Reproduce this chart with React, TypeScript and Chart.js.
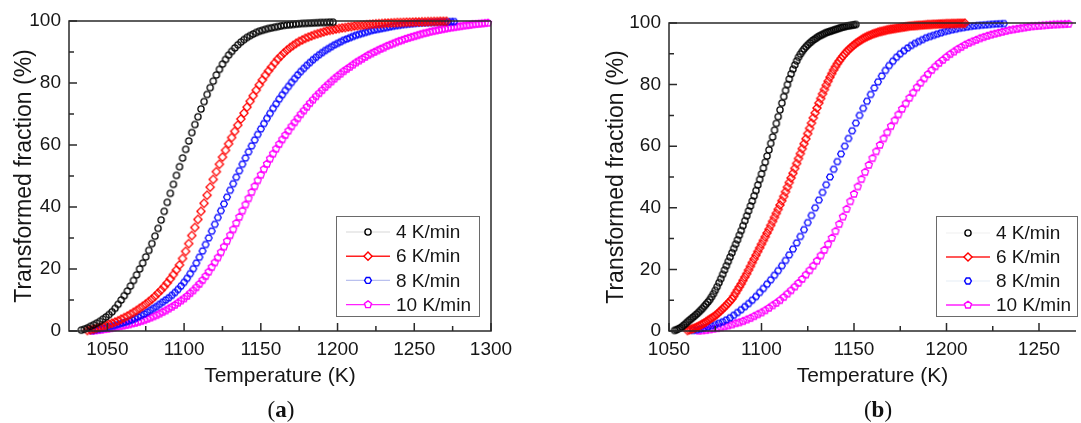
import React, { useEffect, useRef } from "react";
import { Chart, registerables } from "chart.js";
Chart.register(...registerables);

// ---------- shared labels ----------
const seriesLabels = ["4 K/min", "6 K/min", "8 K/min", "10 K/min"];
const seriesColors = ["#000000", "#ff0000", "#0000ff", "#ff00ff"];
const seriesShapes = ["circle", "diamond", "hexagon", "pentagon"];
const legendLineColorsA = ["#e4e4e4", "#ff2020", "#b9c0ee", "#ff20ff"];
const legendLineColorsB = ["#f4f4f4", "#ff2020", "#eef3f8", "#ff20ff"];

const yTicks = [0, 20, 40, 60, 80, 100];
const yMinor = [10, 30, 50, 70, 90];
const xTicksA = [1050, 1100, 1150, 1200, 1250, 1300];
const xMinorA = [1075, 1125, 1175, 1225, 1275];
const xTicksB = [1050, 1100, 1150, 1200, 1250];
const xMinorB = [1075, 1125, 1175, 1225];

const xTitle = "Temperature (K)";
const yTitle = "Transformed fraction (%)";

// ---------- panel (a) data: first temperature, temperature step, fractions ----------
const aStart = [1033, 1037, 1040, 1040];
const aStep = [2, 2, 2, 2];
const a4 = [0.3,0.6,1.0,1.5,2.0,2.5,3.1,3.8,4.5,5.3,6.2,7.3,8.6,10.0,11.4,12.9,14.5,16.3,18.1,20.0,
  21.9,23.9,26.0,28.2,30.6,33.1,35.8,38.6,41.5,44.4,47.3,50.2,53.0,55.8,58.6,61.3,64.0,66.6,69.1,71.6,
  74.0,76.3,78.5,80.6,82.6,84.4,86.1,87.6,89.0,90.2,91.3,92.3,93.2,94.0,94.7,95.3,95.8,96.3,96.7,97.0,
  97.3,97.6,97.8,98.0,98.2,98.4,98.6,98.7,98.8,98.9,99.0,99.1,99.2,99.25,99.3,99.35,99.4,99.45,99.5,99.5,
  99.55,99.6,99.6];
const a6 = [0.2,0.4,0.6,0.9,1.2,1.5,1.8,2.2,2.5,2.9,3.3,3.8,4.3,4.8,5.4,6.0,6.6,7.3,8.0,8.7,
  9.5,10.3,11.2,12.2,13.2,14.3,15.5,16.8,18.2,19.7,21.3,23.4,25.7,28.2,30.8,33.4,36.0,38.6,41.2,43.8,
  46.4,48.9,51.4,53.8,56.1,58.3,60.4,62.4,64.4,66.4,68.4,70.3,72.2,74.1,75.9,77.7,79.4,81.0,82.5,83.9,
  85.2,86.5,87.7,88.7,89.7,90.6,91.4,92.1,92.8,93.4,93.9,94.4,94.8,95.2,95.6,95.9,96.2,96.5,96.8,97.0,
  97.2,97.4,97.6,97.8,97.9,98.1,98.2,98.4,98.5,98.6,98.7,98.8,98.9,99.0,99.1,99.15,99.2,99.3,99.35,99.4,
  99.45,99.5,99.5,99.55,99.6,99.6,99.65,99.7,99.7,99.75,99.75,99.8,99.8,99.85,99.85,99.9,99.9,99.9];
const a8 = [0.2,0.4,0.6,0.8,1.0,1.2,1.5,1.7,2.0,2.3,2.6,2.9,3.2,3.6,4.0,4.5,5.0,5.5,6.1,6.7,
  7.3,7.9,8.6,9.3,10.0,10.7,11.5,12.4,13.4,14.5,15.7,17.0,18.5,20.1,21.9,23.8,25.8,27.9,30.0,32.2,
  34.4,36.6,38.8,41.0,43.2,45.4,47.5,49.6,51.7,53.8,55.8,57.8,59.7,61.6,63.4,65.2,66.9,68.6,70.2,71.8,
  73.3,74.8,76.2,77.6,78.9,80.2,81.4,82.6,83.7,84.7,85.7,86.6,87.5,88.3,89.1,89.8,90.5,91.1,91.7,92.3,
  92.8,93.3,93.8,94.2,94.6,95.0,95.4,95.7,96.0,96.3,96.6,96.9,97.1,97.3,97.5,97.7,97.9,98.1,98.3,98.5,
  98.6,98.8,98.9,99.0,99.1,99.2,99.3,99.35,99.4,99.45,99.5,99.55,99.6,99.65,99.7,99.7,99.75,99.8,99.8];
const a10 = [0.1,0.2,0.3,0.4,0.6,0.7,0.9,1.1,1.3,1.5,1.7,1.9,2.1,2.4,2.6,2.9,3.2,3.5,3.9,4.3,
  4.7,5.1,5.6,6.1,6.6,7.2,7.8,8.4,9.1,9.8,10.5,11.3,12.2,13.1,14.1,15.2,16.4,17.7,19.1,20.6,
  22.1,23.7,25.4,27.2,29.0,30.9,32.8,34.8,36.8,38.8,40.8,42.8,44.8,46.7,48.6,50.4,52.2,53.9,55.6,57.2,
  58.8,60.3,61.8,63.2,64.6,66.0,67.3,68.6,69.9,71.1,72.3,73.5,74.6,75.7,76.7,77.7,78.7,79.6,80.5,81.4,
  82.2,83.0,83.8,84.5,85.2,85.9,86.6,87.2,87.8,88.4,89.0,89.5,90.0,90.5,91.0,91.4,91.9,92.3,92.7,93.1,
  93.5,93.8,94.2,94.5,94.8,95.1,95.4,95.7,96.0,96.2,96.5,96.7,96.9,97.1,97.3,97.5,97.7,97.9,98.0,98.2,
  98.3,98.5,98.6,98.7,98.9,99.0,99.1,99.2,99.3,99.4];

// ---------- panel (b) data ----------
const bStart = [1053, 1060, 1063, 1066];
const bStep = [1, 1, 2, 2];
const b4 = [0.2,0.4,0.7,1.0,1.4,1.9,2.4,3.0,3.5,4.0,4.5,5.0,5.5,6.1,6.7,7.3,8.0,8.7,9.4,10.2,
  11.1,12.1,13.2,14.4,15.7,17.0,18.4,19.8,21.2,22.6,24.0,25.4,26.8,28.2,29.6,31.1,32.6,34.2,35.8,37.4,
  39.0,40.6,42.2,43.9,45.6,47.4,49.2,51.0,52.9,54.8,56.8,58.8,60.9,63.0,65.2,67.4,69.6,71.8,74.0,76.1,
  78.1,80.0,81.8,83.5,85.0,86.4,87.7,88.9,89.9,90.8,91.6,92.3,92.9,93.5,94.0,94.5,94.9,95.3,95.7,96.0,
  96.3,96.6,96.9,97.1,97.3,97.5,97.7,97.9,98.1,98.3,98.5,98.7,98.8,99.0,99.1,99.2,99.3,99.4,99.5];
const b6 = [0.2,0.4,0.6,0.8,1.0,1.3,1.6,1.9,2.3,2.6,3.0,3.4,3.8,4.2,4.6,5.0,5.5,6.1,6.6,7.2,
  7.8,8.4,9.1,9.7,10.4,11.3,12.3,13.3,14.3,15.3,16.4,17.5,18.6,19.8,21.0,22.2,23.4,24.6,25.8,27.0,
  28.2,29.4,30.6,31.8,33.0,34.3,35.6,36.9,38.2,39.5,40.9,42.3,43.7,45.2,46.7,48.2,49.7,51.2,52.8,54.4,
  56.0,57.6,59.2,60.8,62.4,64.1,65.8,67.5,69.2,70.8,72.4,74.0,75.5,77.0,78.4,79.8,81.1,82.4,83.6,84.8,
  85.8,86.8,87.7,88.5,89.3,90.0,90.7,91.3,91.9,92.4,92.9,93.4,93.8,94.2,94.6,95.0,95.3,95.6,95.9,96.1,
  96.4,96.6,96.8,97.0,97.2,97.3,97.5,97.6,97.8,97.9,98.0,98.1,98.2,98.3,98.4,98.5,98.6,98.7,98.8,98.9,
  99.0,99.05,99.1,99.15,99.2,99.25,99.3,99.35,99.4,99.45,99.5,99.5,99.55,99.6,99.6,99.65,99.7,99.7,99.75,99.75,
  99.8,99.8,99.8,99.85,99.85,99.85,99.9,99.9,99.9,99.9,99.95];
const b8 = [0.2,0.4,0.7,1.0,1.3,1.7,2.1,2.5,3.0,3.6,4.3,5.1,6.0,6.9,7.9,8.9,10.0,11.2,12.5,13.8,
  15.2,16.6,18.1,19.6,21.2,22.9,24.7,26.6,28.6,30.7,32.9,35.2,37.5,40.0,42.5,45.0,47.5,50.0,52.5,55.0,
  57.5,60.0,62.5,65.0,67.5,70.0,72.3,74.6,76.8,78.9,80.9,82.8,84.6,86.2,87.6,88.9,90.0,91.0,91.9,92.7,
  93.4,94.0,94.6,95.2,95.6,96.0,96.4,96.8,97.2,97.5,97.8,98.0,98.3,98.5,98.7,98.9,99.05,99.2,99.3,99.4,
  99.5,99.6,99.7,99.75,99.8];
const b10 = [0.1,0.2,0.3,0.5,0.7,0.9,1.2,1.5,1.8,2.1,2.5,2.8,3.2,3.7,4.2,4.8,5.4,6.0,6.7,7.5,
  8.3,9.1,10.0,11.0,12.1,13.2,14.4,15.6,16.9,18.3,19.7,21.2,22.8,24.5,26.3,28.2,30.2,32.4,34.7,37.1,
  39.6,42.1,44.5,46.9,49.3,51.6,53.9,56.1,58.3,60.4,62.5,64.5,66.5,68.4,70.3,72.1,73.9,75.7,77.4,79.1,
  80.6,82.0,83.4,84.7,85.9,87.0,88.0,89.0,89.9,90.7,91.5,92.2,92.9,93.5,94.0,94.5,95.0,95.4,95.8,96.2,
  96.5,96.8,97.1,97.4,97.7,97.9,98.1,98.3,98.5,98.7,98.9,99.0,99.1,99.2,99.3,99.4,99.5,99.55,99.6,99.65,
  99.7];

const FONT = "'Liberation Sans', Arial, sans-serif";
const TEXT = "#161616";

function shapePath(ctx: CanvasRenderingContext2D, shape: string, x: number, y: number, r: number) {
  ctx.beginPath();
  if (shape === "circle") {
    ctx.arc(x, y, r, 0, Math.PI * 2);
  } else {
    const n = shape === "diamond" ? 4 : shape === "hexagon" ? 6 : 5;
    const rot = shape === "hexagon" ? 0 : -Math.PI / 2;
    for (let i = 0; i < n; i++) {
      const a = rot + (i * 2 * Math.PI) / n;
      const px = x + r * Math.cos(a);
      const py = y + r * Math.sin(a);
      if (i === 0) ctx.moveTo(px, py);
      else ctx.lineTo(px, py);
    }
  }
  ctx.closePath();
}

const shapeRadius: Record<string, number> = { circle: 3.1, diamond: 4.1, hexagon: 3.4, pentagon: 3.7 };

function markerCanvas(shape: string, color: string) {
  const r = shapeRadius[shape];
  const size = 12;
  const c = document.createElement("canvas");
  c.width = size;
  c.height = size;
  const ctx = c.getContext("2d")!;
  shapePath(ctx, shape, size / 2, size / 2, r);
  ctx.strokeStyle = color;
  ctx.lineWidth = 1.3;
  ctx.stroke();
  return c;
}

type PanelCfg = {
  left: number;
  width: number;
  top: number;
  yAxisWidth: number;
  padRight: number;
  xMin: number;
  xMax: number;
  xTicks: number[];
  xMinor: number[];
  starts: number[];
  steps: number[];
  series: number[][];
  yTitleOffset: number;
  rightBorder: boolean;
  legend: { x: number; y: number; w: number; h: number; rowY: number; rowGap: number; lineColors: string[] };
};

function framePlugin(cfg: PanelCfg) {
  return {
    id: "frameAndLegend",
    afterDatasetsDraw(chart: any) {
      const { ctx, chartArea } = chart;
      const { left, right, top, bottom } = chartArea;
      const xs = chart.scales.x;
      const ys = chart.scales.y;
      ctx.save();
      ctx.strokeStyle = "#2a2a2a";
      ctx.lineWidth = 1.5;
      ctx.beginPath();
      ctx.moveTo(right, top);
      ctx.lineTo(left, top);
      ctx.lineTo(left, bottom);
      ctx.lineTo(right, bottom);
      if (cfg.rightBorder) ctx.lineTo(right, top);
      ctx.stroke();
      ctx.beginPath();
      cfg.xTicks.forEach((v) => {
        const p = xs.getPixelForValue(v);
        ctx.moveTo(p, bottom);
        ctx.lineTo(p, bottom - 8);
      });
      cfg.xMinor.forEach((v) => {
        const p = xs.getPixelForValue(v);
        ctx.moveTo(p, bottom);
        ctx.lineTo(p, bottom - 5);
      });
      yTicks.forEach((v) => {
        const p = ys.getPixelForValue(v);
        ctx.moveTo(left, p);
        ctx.lineTo(left + 8, p);
      });
      yMinor.forEach((v) => {
        const p = ys.getPixelForValue(v);
        ctx.moveTo(left, p);
        ctx.lineTo(left + 5, p);
      });
      ctx.stroke();

      // legend box
      const L = cfg.legend;
      ctx.fillStyle = "#ffffff";
      ctx.fillRect(L.x, L.y, L.w, L.h);
      ctx.strokeStyle = "#6a6a6a";
      ctx.lineWidth = 1;
      ctx.strokeRect(L.x + 0.5, L.y + 0.5, L.w, L.h);
      ctx.font = `19px ${FONT}`;
      ctx.textBaseline = "middle";
      ctx.textAlign = "left";
      seriesLabels.forEach((lab, i) => {
        const y = L.rowY + i * L.rowGap;
        ctx.strokeStyle = L.lineColors[i];
        ctx.lineWidth = 1.4;
        ctx.beginPath();
        ctx.moveTo(L.x + 10, y);
        ctx.lineTo(L.x + 54, y);
        ctx.stroke();
        ctx.fillStyle = "#ffffff";
        shapePath(ctx, seriesShapes[i], L.x + 32, y, shapeRadius[seriesShapes[i]]);
        ctx.fill();
        ctx.strokeStyle = seriesColors[i];
        ctx.lineWidth = 1.4;
        ctx.stroke();
        ctx.fillStyle = TEXT;
        ctx.fillText(lab, L.x + 60, y + 1);
      });
      ctx.restore();
    },
  };
}

function Panel({ cfg }: { cfg: PanelCfg }) {
  const ref = useRef<HTMLCanvasElement>(null);
  useEffect(() => {
    const datasets = cfg.series.map((vals, i) => ({
      label: seriesLabels[i],
      data: vals.map((y, k) => ({ x: cfg.starts[i] + k * cfg.steps[i], y })),
      pointStyle: markerCanvas(seriesShapes[i], seriesColors[i]),
      pointRadius: 4,
      borderColor: seriesColors[i],
      backgroundColor: "transparent",
      showLine: false,
      clip: false as any,
    }));
    const chart = new Chart(ref.current!, {
      type: "scatter",
      data: { datasets },
      options: {
        responsive: false,
        animation: false,
        devicePixelRatio: 1,
        events: [],
        layout: { padding: { left: 0, right: cfg.padRight, top: cfg.top, bottom: 32 } },
        plugins: { legend: { display: false }, tooltip: { enabled: false } },
        scales: {
          x: {
            type: "linear",
            min: cfg.xMin,
            max: cfg.xMax,
            grid: { display: false, drawTicks: false },
            border: { display: false },
            afterBuildTicks: (s: any) => {
              s.ticks = cfg.xTicks.map((v) => ({ value: v }));
            },
            afterFit: (s: any) => {
              s.height = 60;
            },
            ticks: {
              callback: (v: any) => String(v),
              font: { size: 19, family: FONT },
              color: TEXT,
              padding: 7,
              maxRotation: 0,
              autoSkip: false,
            },
            title: {
              display: true,
              text: xTitle,
              font: { size: 21, family: FONT },
              color: TEXT,
              padding: { top: 0, bottom: 2 },
            },
          },
          y: {
            type: "linear",
            min: 0,
            max: 100,
            grid: { display: false, drawTicks: false },
            border: { display: false },
            afterBuildTicks: (s: any) => {
              s.ticks = yTicks.map((v) => ({ value: v }));
            },
            afterFit: (s: any) => {
              s.width = cfg.yAxisWidth;
            },
            ticks: {
              callback: (v: any) => String(v),
              font: { size: 19, family: FONT },
              color: TEXT,
              padding: 8,
            },
            title: {
              display: true,
              text: yTitle,
              font: { size: 23, family: FONT },
              color: TEXT,
              padding: { top: cfg.yTitleOffset, bottom: 0 },
            },
          },
        },
      },
      plugins: [framePlugin(cfg)],
    } as any);
    return () => chart.destroy();
  }, []);
  return (
    <canvas
      ref={ref}
      width={cfg.width}
      height={423}
      style={{ position: "absolute", left: cfg.left, top: 0, width: cfg.width, height: 423 }}
    />
  );
}

const panelA: PanelCfg = {
  left: 0,
  width: 560,
  top: 21,
  yAxisWidth: 69,
  padRight: 69,
  xMin: 1025,
  xMax: 1300,
  xTicks: xTicksA,
  xMinor: xMinorA,
  starts: aStart,
  steps: aStep,
  series: [a4, a6, a8, a10],
  yTitleOffset: 11,
  rightBorder: true,
  legend: { x: 336, y: 216, w: 143, h: 100, rowY: 232, rowGap: 24.2, lineColors: legendLineColorsA },
};

const panelB: PanelCfg = {
  left: 560,
  width: 521,
  top: 23,
  yAxisWidth: 109,
  padRight: 0,
  xMin: 1050,
  xMax: 1270,
  xTicks: xTicksB,
  xMinor: xMinorB,
  starts: bStart,
  steps: bStep,
  series: [b4, b6, b8, b10],
  yTitleOffset: 43,
  rightBorder: false,
  legend: { x: 376, y: 216, w: 141, h: 100, rowY: 233, rowGap: 24, lineColors: legendLineColorsB },
};

const capStyle: React.CSSProperties = {
  position: "absolute",
  top: 396,
  fontFamily: "'Liberation Serif', 'DejaVu Serif', serif",
  fontSize: 23,
  lineHeight: "27px",
  color: "#111",
  textAlign: "center",
  width: 200,
};

export default function App() {
  return (
    <div style={{ position: "fixed", left: 0, top: 0, width: 1081, height: 423, background: "#fff", overflow: "hidden" }}>
      <Panel cfg={panelA} />
      <Panel cfg={panelB} />
      <div style={{ ...capStyle, left: 181 }}>
        (<b>a</b>)
      </div>
      <div style={{ ...capStyle, left: 778 }}>
        (<b>b</b>)
      </div>
    </div>
  );
}
